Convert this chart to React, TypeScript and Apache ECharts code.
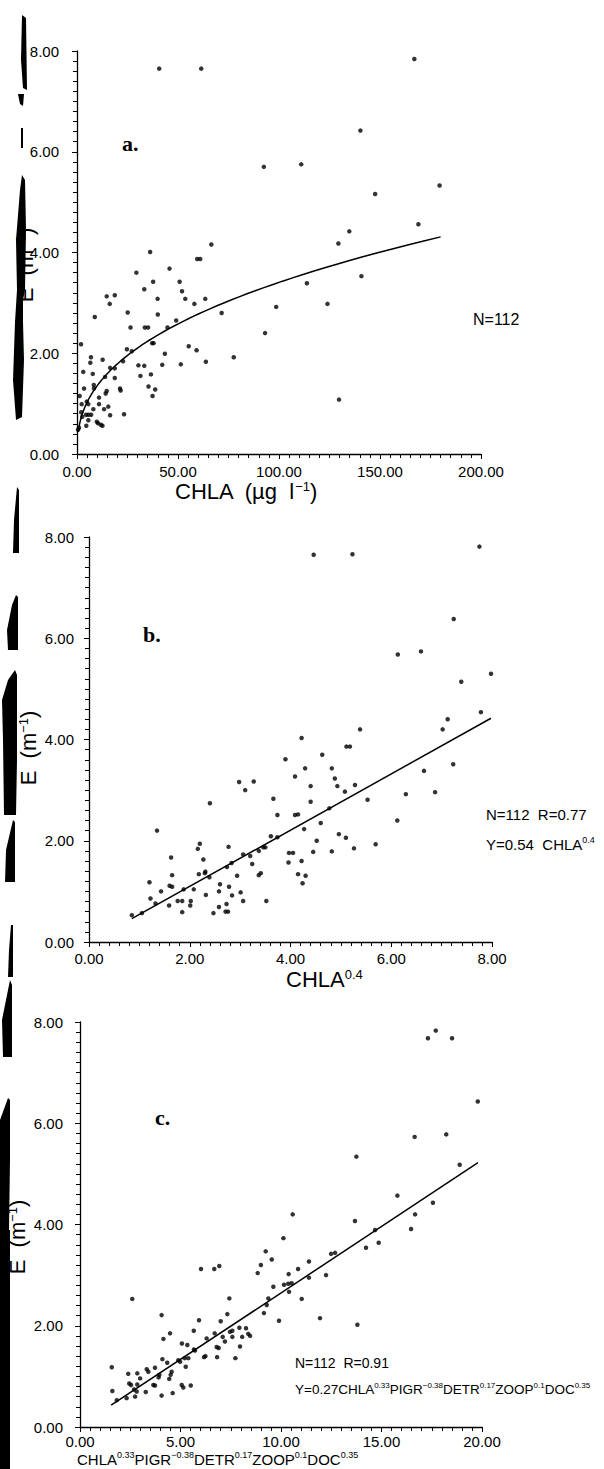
import React, { useEffect, useRef } from "react";
import * as echarts from "echarts";

// ---------- data ----------
// Panel a: E vs CHLA (µg l-1)
const panelA: [number, number][] = [
  [40.7, 7.65], [61.5, 7.65], [167, 7.84], [140.3, 6.42], [92.5, 5.7], [111, 5.75], [147.6, 5.16], [179.5, 5.33],
  [169, 4.56], [134.8, 4.42], [129.4, 4.18], [66.5, 4.16], [113.8, 3.39], [140.8, 3.53], [124, 2.98], [129.7, 1.08],
  [36.2, 4.01], [29.4, 3.6], [45.8, 3.68], [59.5, 3.87], [61.0, 3.87], [37.7, 3.42], [50.8, 3.42], [33.3, 3.27],
  [52, 3.23], [14.7, 3.13], [18.7, 3.15], [39.9, 3.08], [53.6, 3.08], [63.5, 3.08], [16.2, 2.98], [58.1, 2.98],
  [98.6, 2.92], [8.8, 2.72], [25.1, 2.81], [40, 2.77], [71.6, 2.8], [49.1, 2.65], [26.5, 2.51], [33.6, 2.51],
  [35.2, 2.51], [44.8, 2.51], [93.1, 2.4], [2, 2.18], [37.2, 2.2], [37.9, 2.2], [55.3, 2.14], [24.7, 2.08],
  [27.1, 2.04], [59.2, 2.06], [43.5, 1.99], [77.6, 1.92], [6.9, 1.92], [12.7, 1.87], [6.6, 1.81], [22.8, 1.84],
  [63.8, 1.83], [30.4, 1.76], [33.3, 1.75], [42.2, 1.77], [51.4, 1.78], [3.1, 1.63], [7.8, 1.59], [16.4, 1.71],
  [18.7, 1.7], [31.4, 1.55], [36.6, 1.58], [13.9, 1.53], [18.7, 1.51], [8.3, 1.37], [3.5, 1.3], [8.4, 1.3],
  [21.3, 1.3], [21.6, 1.26], [35.4, 1.34], [38.7, 1.28], [14.7, 1.25], [14.2, 1.2], [37.4, 1.15], [1.3, 1.15],
  [10.9, 1.12], [2.3, 0.99], [4.8, 1.04], [5.6, 0.99], [10.9, 0.99], [15.5, 0.94], [13.4, 0.89], [8.1, 0.89],
  [2.1, 0.83], [4.5, 0.78], [5.7, 0.78], [7.0, 0.78], [2.6, 0.74], [16.4, 0.77], [23.3, 0.79], [5.6, 0.67],
  [9.8, 0.64], [10.4, 0.61], [11.8, 0.58], [12.6, 0.56], [4.6, 0.56], [0.5, 0.48], [1.0, 0.52],
];
const fitCoef = 0.54;
const fitExp = 0.4;
const fitRangeA = [0.6, 180];

// Panel b: E vs CHLA^0.4
const panelB: [number, number][] = [
  [4.46, 7.65], [5.23, 7.66], [7.75, 7.81], [7.24, 6.38], [6.13, 5.68], [6.59, 5.74], [7.39, 5.14], [7.98, 5.3],
  [7.78, 4.54], [7.12, 4.4], [5.38, 4.2], [7.02, 4.2], [4.22, 4.03], [5.11, 3.86], [5.18, 3.86], [4.63, 3.7],
  [4.29, 3.43], [4.82, 3.43], [7.23, 3.51], [4.88, 3.23], [6.65, 3.38], [4.4, 3.08], [4.93, 3.08], [5.28, 3.1],
  [5.08, 2.97], [6.87, 2.96], [6.29, 2.92], [4.4, 2.77], [5.53, 2.81], [4.77, 2.64], [6.12, 2.4], [4.27, 2.23],
  [4.6, 2.35], [4.96, 2.13], [5.1, 2.06], [4.52, 2.0], [5.26, 1.85], [5.69, 1.93], [4.45, 1.78], [4.82, 1.79],
  [4.22, 1.6], [4.3, 1.31], [4.24, 1.16], [3.9, 3.61], [4.09, 3.27], [2.98, 3.16], [3.27, 3.17], [3.1, 3.0],
  [3.66, 2.83], [2.4, 2.74], [3.74, 2.51], [4.09, 2.51], [4.15, 2.52], [1.35, 2.2], [3.61, 2.09], [3.74, 2.07],
  [2.2, 1.94], [2.16, 1.84], [2.77, 1.88], [3.46, 1.87], [3.5, 1.87], [3.37, 1.8], [3.06, 1.73], [3.2, 1.7],
  [3.97, 1.76], [4.05, 1.76], [1.63, 1.67], [2.27, 1.63], [2.83, 1.56], [3.24, 1.54], [3.96, 1.57], [2.74, 1.48],
  [2.31, 1.39], [2.3, 1.36], [1.65, 1.32], [2.18, 1.34], [2.94, 1.31], [3.37, 1.32], [3.41, 1.36], [4.15, 1.34],
  [2.39, 1.28], [1.2, 1.18], [1.6, 1.11], [1.65, 1.09], [2.6, 1.14], [1.43, 1.0], [1.88, 1.04], [2.08, 1.04],
  [2.58, 1.0], [2.78, 1.09], [1.22, 0.86], [2.32, 0.93], [2.84, 0.92], [3.01, 0.98], [1.32, 0.76], [1.59, 0.72],
  [1.76, 0.81], [1.85, 0.81], [2.02, 0.81], [2.01, 0.72], [3.06, 0.81], [3.52, 0.81], [2.73, 0.75], [2.58, 0.69],
  [1.85, 0.59], [2.47, 0.57], [2.71, 0.6], [2.76, 0.6], [0.85, 0.53], [1.05, 0.57],
];
const fitLineB: [number, number][] = [[0.85, 0.46], [7.98, 4.42]];

// Panel c: E vs CHLA^0.33 PIGR^-0.38 DETR^0.17 ZOOP^0.1 DOC^0.35
const panelC: [number, number][] = [
  [17.7, 7.83], [17.31, 7.68], [18.51, 7.68], [19.79, 6.43], [16.65, 5.73], [18.22, 5.78], [13.75, 5.34], [18.89, 5.18],
  [15.79, 4.57], [17.56, 4.43], [16.67, 4.2], [13.68, 4.07], [16.47, 3.91], [14.68, 3.89], [10.58, 4.2], [14.23, 3.54],
  [14.86, 3.64], [12.49, 3.42], [12.69, 3.44], [11.39, 3.27], [11.39, 2.95], [12.24, 3.0], [11.03, 2.53], [11.94, 2.15],
  [13.8, 2.02], [10.12, 3.73], [9.24, 3.47], [9.54, 3.31], [9.0, 3.2], [8.84, 3.04], [10.38, 3.02], [10.85, 3.12],
  [6.02, 3.12], [6.68, 3.12], [6.93, 3.18], [9.62, 2.77], [10.15, 2.81], [10.36, 2.83], [10.53, 2.84], [10.4, 2.67],
  [9.37, 2.54], [7.43, 2.54], [2.6, 2.53], [9.29, 2.41], [4.06, 2.21], [7.33, 2.23], [9.15, 2.25], [5.92, 2.11],
  [7.0, 2.09], [9.9, 2.1], [5.66, 1.9], [7.46, 1.88], [7.58, 1.9], [7.93, 1.96], [8.26, 1.95], [4.48, 1.85],
  [6.7, 1.85], [8.37, 1.84], [8.46, 1.8], [7.1, 1.78], [8.07, 1.78], [4.15, 1.74], [6.3, 1.75], [7.58, 1.78],
  [7.21, 1.69], [7.96, 1.59], [5.07, 1.65], [5.34, 1.62], [6.8, 1.58], [6.9, 1.56], [5.67, 1.53], [5.72, 1.51],
  [6.24, 1.4], [6.17, 1.38], [6.82, 1.38], [7.73, 1.36], [4.1, 1.34], [4.89, 1.32], [4.98, 1.29], [5.21, 1.36],
  [5.39, 1.36], [4.34, 1.27], [5.26, 1.19], [1.58, 1.18], [3.73, 1.17], [3.32, 1.14], [3.4, 1.09], [2.85, 1.06],
  [2.4, 1.05], [4.56, 1.09], [4.51, 1.03], [3.95, 1.03], [3.91, 0.98], [4.44, 0.95], [2.99, 0.96], [2.45, 0.86],
  [2.54, 0.83], [2.85, 0.84], [3.65, 0.83], [3.73, 0.82], [5.06, 0.83], [5.14, 0.78], [5.51, 0.82], [2.69, 0.74],
  [2.82, 0.7], [3.27, 0.69], [1.61, 0.71], [4.61, 0.67], [4.06, 0.62], [2.74, 0.6], [2.32, 0.57], [1.83, 0.53],
];
const fitLineC: [number, number][] = [[1.55, 0.43], [19.8, 5.22]];

const yTicks = { min: 0, max: 8, interval: 2 };
const xTicksA = { min: 0, max: 200, interval: 50 };
const xTicksB = { min: 0, max: 8, interval: 2 };
const xTicksC = { min: 0, max: 20, interval: 5 };

const SANS = "'Liberation Sans', Arial, Helvetica, sans-serif";
const SERIF = "'Liberation Serif', 'Times New Roman', serif";

function curveA(): [number, number][] {
  const out: [number, number][] = [];
  const n = 120;
  const [a, b] = fitRangeA;
  for (let i = 0; i <= n; i++) {
    const x = a * Math.pow(b / a, i / n);
    out.push([x, fitCoef * Math.pow(x, fitExp)]);
  }
  return out;
}

function axisCommon(labelMargin: number) {
  return {
    type: "value" as const,
    axisLine: { show: true, onZero: false, lineStyle: { color: "#000", width: 1.3 } },
    axisTick: { show: true, inside: false, length: 5, lineStyle: { color: "#000", width: 1 } },
    minorTick: { show: true, splitNumber: 10, length: 4, lineStyle: { color: "#000", width: 1 } },
    splitLine: { show: false },
    minorSplitLine: { show: false },
    axisLabel: {
      color: "#000",
      fontFamily: SANS,
      fontSize: 15,
      lineHeight: 15,
      margin: labelMargin,
      formatter: (v: number) => v.toFixed(2),
    },
  };
}

const blobs: number[][][] = [
  [[22, 15], [26, 18], [27, 90], [23, 88], [21, 60]],
  [[18, 94], [24, 94], [23, 106], [20, 104]],
  [[21, 128], [23, 128], [23, 148], [21, 148]],
  [[22, 175], [25, 180], [26, 230], [25, 290], [23, 300], [23, 322], [24, 360], [22, 417], [16, 420], [13, 380], [15, 322], [17, 290], [16, 240], [20, 190]],
  [[17, 487], [19, 490], [19, 553], [13, 553], [14, 520]],
  [[16, 595], [18, 597], [18, 650], [8, 650], [7, 630], [12, 605]],
  [[15, 670], [17, 675], [17, 760], [16, 815], [4, 815], [3, 740], [2, 700], [8, 680]],
  [[13, 820], [15, 822], [15, 882], [5, 882], [6, 850]],
  [[11, 925], [13, 925], [13, 977], [8, 977], [9, 950]],
  [[10, 980], [12, 985], [12, 1057], [3, 1057], [2, 1020]],
  [[8, 1098], [10, 1100], [10, 1160], [9, 1230], [0, 1230], [0, 1120]],
  [[10, 1230], [10, 1469], [0, 1469], [0, 1230]],
];

export default function App() {
  const ref = useRef<HTMLDivElement>(null);
  useEffect(() => {
    if (!ref.current) return;
    const chart = echarts.init(ref.current, undefined, { renderer: "svg" });
    const grids = [
      { left: 77, top: 51, width: 404, height: 403 },
      { left: 89, top: 537, width: 403, height: 405 },
      { left: 80, top: 1022, width: 402, height: 405 },
    ];
    const supRich = {
      m: { fontFamily: SANS, fontSize: 22, color: "#000", lineHeight: 22 },
      s: { fontFamily: SANS, fontSize: 13, color: "#000", verticalAlign: "top" as const, lineHeight: 22 },
    };
    const txt = (x: number, y: number, text: string, extra: any = {}, elExtra: any = {}) => ({
      type: "text",
      x,
      y,
      ...elExtra,
      style: {
        text,
        fill: "#000",
        font: `15px ${SANS}`,
        textAlign: "left",
        textVerticalAlign: "middle",
        align: "left",
        verticalAlign: "middle",
        ...extra,
      },
    });
    const smallRich = (base: number, sup: number) => ({
      m: { fontFamily: SANS, fontSize: base, color: "#000", lineHeight: base + 2 },
      s: { fontFamily: SANS, fontSize: sup, color: "#000", verticalAlign: "top" as const, lineHeight: base + 2 },
    });

    const graphics: any[] = [
      ...blobs.map((pts) => ({ type: "polygon", shape: { points: pts }, style: { fill: "#000" } })),
      // panel labels
      txt(122, 143, "a.", { font: `bold 22px ${SERIF}` }),
      txt(143, 634, "b.", { font: `bold 22px ${SERIF}` }),
      txt(155, 1117, "c.", { font: `bold 22px ${SERIF}` }),
      // annotations
      txt(473, 319, "N=112", { font: `16px ${SANS}` }),
      txt(486, 814, "N=112  R=0.77", { font: `15px ${SANS}` }),
      txt(486, 844, "{m|Y=0.54  CHLA}{s|0.4}", { rich: smallRich(15, 9) }),
      txt(295, 1363, "N=112  R=0.91", { font: `14px ${SANS}` }),
      txt(295, 1389, "{m|Y=0.27CHLA}{s|0.33}{m|PIGR}{s|−0.38}{m|DETR}{s|0.17}{m|ZOOP}{s|0.1}{m|DOC}{s|0.35}", { rich: smallRich(13.5, 8) }),
      // x axis names
      txt(175, 491, "{m|CHLA  (µg  l}{s|−1}{m|)}", { rich: supRich }),
      txt(286, 979, "{m|CHLA}{s|0.4}", { rich: supRich }),
      txt(77, 1459, "{m|CHLA}{s|0.33}{m|PIGR}{s|−0.38}{m|DETR}{s|0.17}{m|ZOOP}{s|0.1}{m|DOC}{s|0.35}", { rich: smallRich(15, 9) }),
      // y axis names (rotated)
      txt(25, 265, "{m|E  (m}{s|−1}{m|)}", { rich: supRich, textAlign: "center", align: "center" }, { rotation: Math.PI / 2 }),
      txt(28, 748, "{m|E  (m}{s|−1}{m|)}", { rich: supRich, textAlign: "center", align: "center" }, { rotation: Math.PI / 2 }),
      txt(17, 1237, "{m|E  (m}{s|−1}{m|)}", { rich: supRich, textAlign: "center", align: "center" }, { rotation: Math.PI / 2 }),
    ];

    chart.setOption({
      animation: false,
      backgroundColor: "#fff",
      grid: grids,
      xAxis: [
        { ...axisCommon(10), gridIndex: 0, ...xTicksA },
        { ...axisCommon(9), gridIndex: 1, ...xTicksB },
        { ...axisCommon(7), gridIndex: 2, ...xTicksC },
      ],
      yAxis: [
        { ...axisCommon(18), gridIndex: 0, ...yTicks },
        { ...axisCommon(15), gridIndex: 1, ...yTicks },
        { ...axisCommon(17), gridIndex: 2, ...yTicks },
      ],
      series: [
        { type: "scatter", xAxisIndex: 0, yAxisIndex: 0, data: panelA, symbolSize: 4.5, itemStyle: { color: "#000" } },
        { type: "line", xAxisIndex: 0, yAxisIndex: 0, data: curveA(), showSymbol: false, lineStyle: { color: "#000", width: 1.5 } },
        { type: "scatter", xAxisIndex: 1, yAxisIndex: 1, data: panelB, symbolSize: 4.5, itemStyle: { color: "#000" } },
        { type: "line", xAxisIndex: 1, yAxisIndex: 1, data: fitLineB, showSymbol: false, lineStyle: { color: "#000", width: 1.5 } },
        { type: "scatter", xAxisIndex: 2, yAxisIndex: 2, data: panelC, symbolSize: 4.5, itemStyle: { color: "#000" } },
        { type: "line", xAxisIndex: 2, yAxisIndex: 2, data: fitLineC, showSymbol: false, lineStyle: { color: "#000", width: 1.5 } },
      ],
      graphic: graphics,
    });
    return () => chart.dispose();
  }, []);
  return (
    <div
      ref={ref}
      style={{ position: "absolute", left: 0, top: 0, width: 604, height: 1469, background: "#fff" }}
    />
  );
}
